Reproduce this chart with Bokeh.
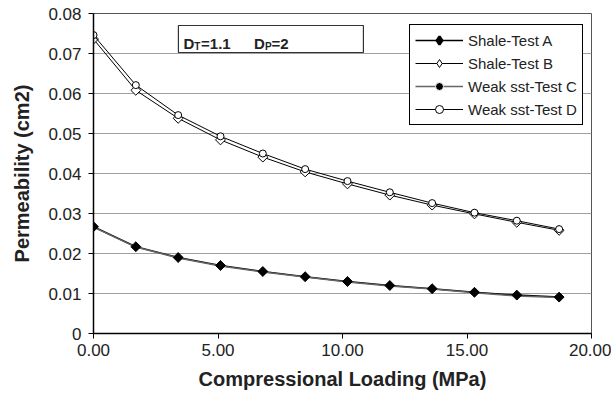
import numpy as np
from bokeh.plotting import figure
from bokeh.models import (Range1d, FixedTicker, PrintfTickFormatter, CustomJSTickFormatter,
                          Legend, LegendItem, BoxAnnotation, Label)
from bokeh.embed import file_html
from bokeh.resources import INLINE

# ---- data ----
loading = [0.0, 1.7, 3.4, 5.1, 6.8, 8.5, 10.2, 11.9, 13.6, 15.3, 17.0, 18.7]
shale_a = [0.0267, 0.0217, 0.0190, 0.0170, 0.0155, 0.0142, 0.0130, 0.0120, 0.0112, 0.0103, 0.0096, 0.0091]
shale_b = [0.0736, 0.0608, 0.0538, 0.0484, 0.0441, 0.0404, 0.0374, 0.0346, 0.0321, 0.0299, 0.0278, 0.0258]
weak_c = [0.0266, 0.0216, 0.0189, 0.0169, 0.0154, 0.0141, 0.0129, 0.0119, 0.0111, 0.0102, 0.0094, 0.0090]
weak_d = [0.0746, 0.0621, 0.0546, 0.0493, 0.0450, 0.0411, 0.0381, 0.0353, 0.0326, 0.0302, 0.0282, 0.0261]
x_ticks = [0, 5, 10, 15, 20]
y_ticks = [0, 0.01, 0.02, 0.03, 0.04, 0.05, 0.06, 0.07, 0.08]
series_names = ["Shale-Test A", "Shale-Test B", "Weak sst-Test C", "Weak sst-Test D"]

FONT = "Liberation Sans"

p = figure(width=611, height=398, output_backend="svg", toolbar_location=None,
           x_range=Range1d(0, 20), y_range=Range1d(0, 0.08),
           min_border_left=93, min_border_right=20, min_border_top=13, min_border_bottom=65)
p.background_fill_color = "white"
p.border_fill_color = "white"
p.outline_line_color = "#555555"
p.outline_line_width = 1

# axes
p.xaxis.ticker = FixedTicker(ticks=x_ticks)
p.yaxis.ticker = FixedTicker(ticks=y_ticks)
p.xaxis.formatter = PrintfTickFormatter(format="%.2f")
p.yaxis.formatter = CustomJSTickFormatter(code="return tick == 0 ? '0' : tick.toFixed(2);")
for ax in (p.xaxis, p.yaxis):
    ax.axis_line_color = "black"
    ax.axis_line_width = 1.5
    ax.major_tick_line_color = "black"
    ax.major_tick_in = 0
    ax.major_tick_out = 5
    ax.minor_tick_line_color = None
    ax.major_label_text_font = FONT
    ax.major_label_text_font_size = "17px"
    ax.major_label_text_color = "#222222"
    ax.axis_label_text_font = FONT
    ax.axis_label_text_font_size = "20px"
    ax.axis_label_text_font_style = "bold"
    ax.axis_label_text_color = "#222222"
p.xaxis.major_label_standoff = 5
p.yaxis.major_label_standoff = 7
p.xaxis.axis_label = "Compressional Loading (MPa)"
p.yaxis.axis_label = "Permeability (cm2)"
p.xaxis.axis_label_standoff = 9
p.yaxis.axis_label_standoff = 12

p.xgrid.grid_line_color = None
p.ygrid.ticker = FixedTicker(ticks=y_ticks)
p.ygrid.grid_line_color = "#a0a0a0"
p.ygrid.grid_line_width = 1

# series (diamond-shaped glyphs give the legend its shape; the rotated squares drawn
# over them give the plotted diamond shape)
la = p.line(loading, shale_a, line_color="black", line_width=1.5)
lb = p.line(loading, shale_b, line_color="black", line_width=1)
gb = p.scatter(loading, shale_b, marker="diamond", size=6,
               fill_color="white", line_color="black", line_width=1)
mb = p.scatter(loading, shale_b, marker="square", angle=np.pi / 4, size=7,
               fill_color="white", line_color="black", line_width=1)
lc = p.line(loading, weak_c, line_color="#666666", line_width=1.5)
mc = p.scatter(loading, weak_c, marker="circle", size=5,
               fill_color="black", line_color="white", line_width=1)
ld = p.line(loading, weak_d, line_color="black", line_width=1)
md = p.scatter(loading, weak_d, marker="circle", size=7,
               fill_color="white", line_color="black", line_width=1)
ga = p.scatter(loading, shale_a, marker="diamond", size=5,
               fill_color="black", line_color="black", line_width=2.5)
ma = p.scatter(loading, shale_a, marker="square", angle=np.pi / 4, size=7,
               fill_color="black", line_color="black")

legend = Legend(items=[
    LegendItem(label=series_names[0], renderers=[la, ga]),
    LegendItem(label=series_names[1], renderers=[lb, gb]),
    LegendItem(label=series_names[2], renderers=[lc, mc]),
    LegendItem(label=series_names[3], renderers=[ld, md]),
], location=(316, 208))
legend.label_text_font = FONT
legend.label_text_font_size = "15px"
legend.label_text_color = "#222222"
legend.glyph_width = 48
legend.glyph_height = 20
legend.label_height = 20
legend.label_standoff = 5
legend.spacing = 3
legend.padding = 5
legend.margin = 0
legend.border_line_color = "black"
legend.border_line_width = 1
legend.border_line_alpha = 1
legend.background_fill_color = "white"
legend.background_fill_alpha = 1
p.add_layout(legend)

# parameter box
box = BoxAnnotation(left=3.41, right=10.84, bottom=0.07025, top=0.0770,
                    fill_color="white", fill_alpha=1, line_color="#333333", line_alpha=1,
                    line_width=1.2)
p.add_layout(box)

def lab(x, y, t, size):
    p.add_layout(Label(x=x, y=y, text=t, text_font=FONT, text_font_size=size,
                       text_font_style="bold", text_color="#222222",
                       text_baseline="alphabetic", text_align="left"))

lab(3.61, 0.0724, "D", "15px")
lab(4.05, 0.0717, "T", "10px")
lab(4.32, 0.0724, "=1.1", "15px")
lab(6.45, 0.0724, "D", "15px")
lab(6.89, 0.0717, "P", "10px")
lab(7.15, 0.0724, "=2", "15px")

open("out.html", "w").write(file_html(p, INLINE))
